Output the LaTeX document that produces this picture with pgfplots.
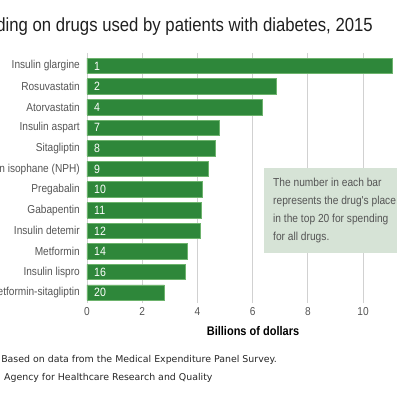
\documentclass[border=0pt]{standalone}
\usepackage{pgfplots}
\pgfplotsset{compat=1.18}
\usepackage{pgfplotstable}
\usepackage{fontspec}
\setmainfont{Liberation Sans}
\newfontfamily\cond[FakeStretch=0.88]{Liberation Sans}
\newfontfamily\notefont{DejaVu Sans}
\definecolor{barfill}{HTML}{2E873A}
\definecolor{barline}{HTML}{6DB36D}
\definecolor{boxcol}{HTML}{D6E3D6}
\definecolor{labgray}{HTML}{555555}

\pgfplotstableread[col sep=comma]{
idx,value,rank,name
0,11.06,1,Insulin glargine
1,6.85,2,Rosuvastatin
2,6.35,4,Atorvastatin
3,4.78,7,Insulin aspart
4,4.64,8,Sitagliptin
5,4.40,9,Insulin isophane (NPH)
6,4.17,10,Pregabalin
7,4.14,11,Gabapentin
8,4.12,12,Insulin detemir
9,3.65,14,Metformin
10,3.58,16,Insulin lispro
11,2.80,20,Metformin-sitagliptin
}\data

\begin{document}
\begin{tikzpicture}
\useasboundingbox (0,0) rectangle (400pt,400pt);
\clip (0,0) rectangle (400pt,400pt);
\begin{axis}[
  at={(87pt,97pt)}, anchor=south west,
  scale only axis, width=305.3pt, height=250pt,
  xmin=0, xmax=11.06, ymin=-0.63, ymax=11.5, y dir=reverse,
  axis line style={draw=none}, major tick length=0pt,
  xtick={0,2,4,6,8,10},
  xmajorgrids, grid style={draw=black!18, line width=0.8pt},
  ytick={0,...,11}, yticklabels from table={\data}{name},
  xticklabel style={anchor=north, inner sep=0pt, yshift=-4pt, text=labgray, font=\cond\fontsize{11.5}{12}\selectfont},
  yticklabel style={anchor=east, inner sep=0pt, xshift=-7pt, text=labgray, font=\cond\fontsize{11.5}{12}\selectfont},
  /pgf/number format/assume math mode=true,
  clip=false,
]
\addplot[xbar, bar width=15.5pt, bar shift=0pt, fill=barfill, draw=barline, line width=0.8pt]
  table[x=value, y=idx] {\data};
\addplot[draw=none, nodes near coords, point meta=explicit symbolic,
  nodes near coords style={anchor=west, inner sep=0pt, xshift=7pt, text=white, font=\cond\fontsize{12}{12}\selectfont}]
  table[x expr=0, y=idx, meta=rank] {\data};
\end{axis}
\node[anchor=base east, inner sep=0pt, font=\cond\fontsize{19}{20}\selectfont, text=black!88] at (373pt,368.5pt) {Spending on drugs used by patients with diabetes, 2015};
\node[anchor=base, inner sep=0pt, font=\cond\bfseries\fontsize{12.5}{13}\selectfont] at (253pt,64pt) {Billions of dollars};
\fill[boxcol] (264pt,147pt) rectangle (397pt,232pt);
\begin{scope}[every node/.style={anchor=base west, inner sep=0pt, text=labgray, font=\cond\fontsize{11.6}{13}\selectfont}]
\node at (273pt,213pt) {The number in each bar};
\node at (273pt,195pt) {represents the drug's place};
\node at (273pt,177pt) {in the top 20 for spending};
\node at (273pt,159pt) {for all drugs.};
\end{scope}
\node[anchor=base east, inner sep=0pt, font=\notefont\fontsize{9.4}{10}\selectfont, text=black!85] at (277pt,37.5pt) {Note: Based on data from the Medical Expenditure Panel Survey.};
\node[anchor=base east, inner sep=0pt, font=\notefont\fontsize{9.4}{10}\selectfont, text=black!85] at (212.7pt,19.5pt) {Source: Agency for Healthcare Research and Quality};
\end{tikzpicture}
\end{document}
